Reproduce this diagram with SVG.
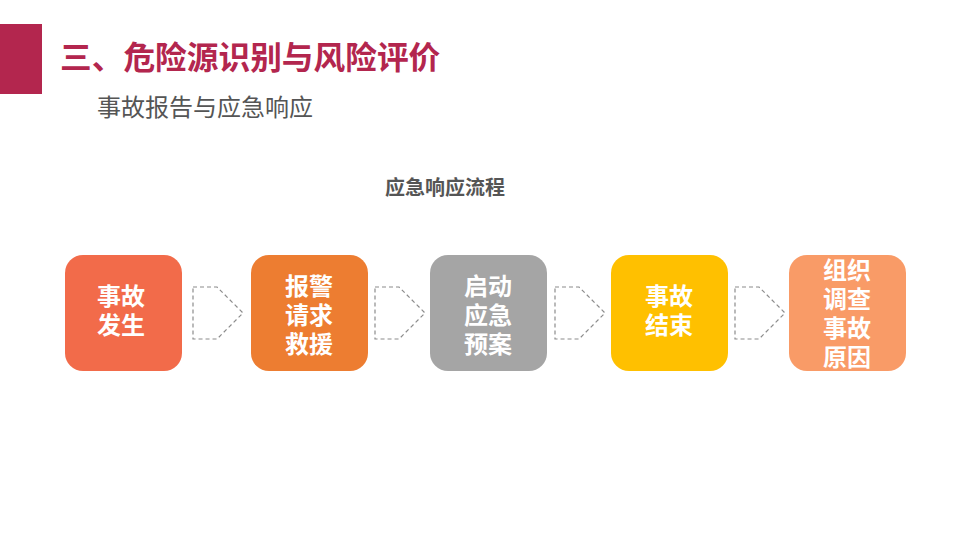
<svg xmlns="http://www.w3.org/2000/svg" width="960" height="540" viewBox="0 0 960 540">
<style>
.t{font-family:"Noto Sans CJK SC","Noto Sans",sans-serif;}
.bx{font-family:"Noto Sans CJK SC","Noto Sans",sans-serif;font-size:24px;font-weight:bold;fill:#fff;text-anchor:middle;}
.ar{fill:none;stroke:#8c8c8c;stroke-width:1.2;stroke-dasharray:4 3;}
</style>
<rect width="960" height="540" fill="#fff"/>
<rect x="0" y="24" width="42" height="70" fill="#B3264E"/>
<text class="t" x="60" y="69" font-size="31.7" font-weight="bold" fill="#B3264E">三、危险源识别与风险评价</text>
<text class="t" x="97" y="116" font-size="24" fill="#555">事故报告与应急响应</text>
<text class="t" x="445" y="195" font-size="20" font-weight="bold" fill="#555" text-anchor="middle">应急响应流程</text>
<g id="connectors">
<polygon class="ar" points="193,287 217,287 243,313 217,339 193,339"/>
<polygon class="ar" points="375,287 399,287 425,313 399,339 375,339"/>
<polygon class="ar" points="555,287 579,287 605,313 579,339 555,339"/>
<polygon class="ar" points="735,287 759,287 785,313 759,339 735,339"/>
</g>
<g id="n1">
<rect x="65" y="255" width="117" height="116" rx="18" fill="#F26B4A"/>
<text class="bx" x="121" y="305">事故<tspan x="121" dy="29">发生</tspan></text>
</g>
<g id="n2">
<rect x="251" y="255" width="117" height="116" rx="18" fill="#ED7D31"/>
<text class="bx" x="309" y="295">报警<tspan x="309" dy="29">请求</tspan><tspan x="309" dy="29">救援</tspan></text>
</g>
<g id="n3">
<rect x="430" y="255" width="117" height="116" rx="18" fill="#A5A5A5"/>
<text class="bx" x="488" y="295">启动<tspan x="488" dy="29">应急</tspan><tspan x="488" dy="29">预案</tspan></text>
</g>
<g id="n4">
<rect x="611" y="255" width="117" height="116" rx="18" fill="#FFC000"/>
<text class="bx" x="669" y="305">事故<tspan x="669" dy="29">结束</tspan></text>
</g>
<g id="n5">
<rect x="789" y="255" width="117" height="116" rx="18" fill="#F99B67"/>
<text class="bx" x="847" y="279">组织<tspan x="847" dy="29">调查</tspan><tspan x="847" dy="29">事故</tspan><tspan x="847" dy="29">原因</tspan></text>
</g>
</svg>
